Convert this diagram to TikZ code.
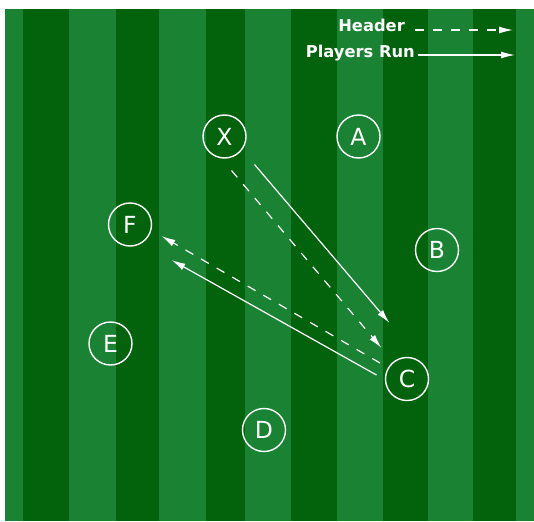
\documentclass[tikz,border=0pt]{standalone}
\usepackage{fontspec}
\setmainfont{DejaVu Sans}
\usetikzlibrary{arrows.meta}
\definecolor{grasslight}{HTML}{1A8233}
\definecolor{grassdark}{HTML}{03630C}
\tikzset{
  player/.style={draw=white, circle, line width=1.4pt, minimum size=43pt, inner sep=0pt, text=white, font=\fontsize{23.5}{24}\selectfont},
  legendtext/.style={text=white, inner sep=0pt, font=\fontsize{16.3}{17}\selectfont\bfseries},
  run/.style={-{Latex[length=14pt,width=7pt]}, line width=1.2pt, draw=white},
  header/.style={run, dash pattern=on 9pt off 9pt}
}

\begin{document}
\begin{tikzpicture}[x=1pt, y=-1pt]
  \useasboundingbox (0,0) rectangle (534,521);
  % pitch
  \fill[grasslight] (5,9) rectangle (534,521);
  \foreach \xa/\xb in {23/69,116/159,206/245,291/337,383/428,473/516}
    \fill[grassdark] (\xa,9) rectangle (\xb,521);

  % legend
  \node[legendtext, anchor=base east] (hdr) at (405,32) {Header};
  \node[legendtext, anchor=base east] (prun) at (415,58) {Players Run};
  \coordinate (hdrtip) at (513,30);
  \coordinate (pruntip) at (515,55);
  \draw[header] ([shift={(10,-2)}]hdr.base east) -- (hdrtip);
  \draw[run] ([shift={(3,-3)}]prun.base east) -- (pruntip);

  % players
  \node[player] (x) at (224.5,136.5) {X};
  \node[player] (a) at (358.5,136.5) {A};
  \node[player] (f) at (130,224.5) {F};
  \node[player] (b) at (437,250) {B};
  \node[player] (e) at (110.5,343.5) {E};
  \node[player] (c) at (407,379) {C};
  \node[player] (d) at (264,430) {D};

  % moves
  \draw[run] ([shift={(30,28)}]x.center) -- ([shift={(-17.5,-56)}]c.center);
  \draw[header] ([shift={(7,34)}]x.center) -- ([shift={(-25.5,-31)}]c.center);
  \draw[header] ([shift={(-27,-16)}]c.center) -- ([shift={(31.5,11.5)}]f.center);
  \draw[run] ([shift={(-30.5,-4)}]c.center) -- ([shift={(41.5,35.5)}]f.center);
\end{tikzpicture}
\end{document}
